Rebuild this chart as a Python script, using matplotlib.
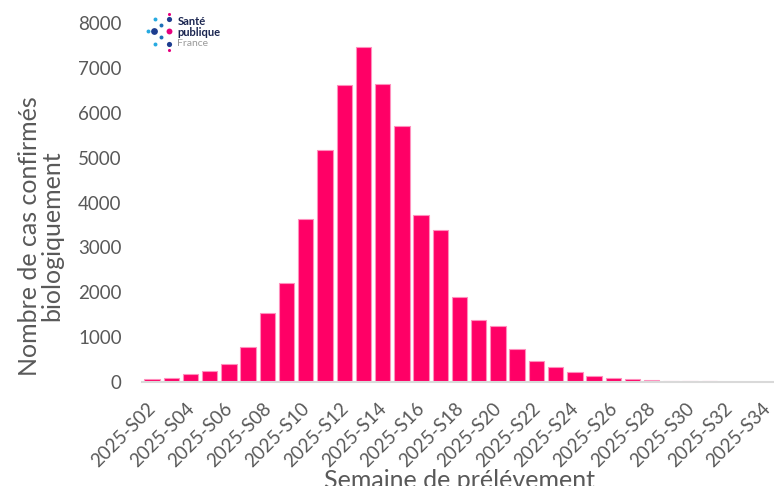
import matplotlib.pyplot as plt
from matplotlib.transforms import ScaledTranslation

plt.rcParams['font.family'] = ['Lato', 'DejaVu Sans']

# Weekly counts of biologically confirmed cases, 2025-S02 to 2025-S34
weeks = [f"2025-S{n:02d}" for n in range(2, 35)]
cases = [60, 90, 180, 240, 400, 780, 1540, 2210, 3640, 5180,
         6620, 7460, 6630, 5700, 3730, 3390, 1900, 1380, 1240, 740,
         470, 340, 230, 140, 80, 70, 40, 20, 15, 12,
         10, 10, 8]
yticks = [0, 1000, 2000, 3000, 4000, 5000, 6000, 7000, 8000]

text_grey = '#595959'

fig = plt.figure(figsize=(7.74, 4.86), dpi=100)
ax = fig.add_axes([142.4 / 774, 104 / 486, 615.0 * 33 / 32 / 774, 359 / 486])

x = list(range(len(weeks)))
ax.bar(x, cases, width=0.8, color='#FF0066', edgecolor='#FF8FBD', linewidth=0.8)

ax.set_xlim(-0.5, len(weeks) - 0.5)
ax.set_ylim(0, 8000)
ax.set_yticks(yticks)
ax.set_yticklabels([str(v) for v in yticks])
ax.set_xticks(x[::2])
ax.set_xticklabels(weeks[::2], rotation=45, ha='right', rotation_mode='anchor')

ax.tick_params(axis='y', length=0, pad=15, labelsize=13.5, labelcolor=text_grey)
ax.tick_params(axis='x', length=0, pad=13, labelsize=13.5, labelcolor=text_grey)

# nudge the rotated week labels slightly to the left
shift = ScaledTranslation(-5 / 100, 0, fig.dpi_scale_trans)
for lbl in ax.get_xticklabels():
    lbl.set_transform(lbl.get_transform() + shift)

for side in ['top', 'right', 'left']:
    ax.spines[side].set_visible(False)
ax.spines['bottom'].set_color('#D9D9D9')
ax.spines['bottom'].set_linewidth(1.5)

fig.text(41 / 774, 1 - 236 / 486, 'Nombre de cas confirmés\nbiologiquement',
         rotation=90, ha='center', va='center', multialignment='center',
         fontsize=18, color=text_grey, linespacing=0.95)
fig.text(460 / 774, 0.036, 'Semaine de prélévement', ha='center', va='top',
         fontsize=18, color=text_grey)

# Santé publique France logo in the top-left corner
logo = fig.add_axes([0, 0, 1, 1], zorder=5)
logo.set_xlim(0, 774)
logo.set_ylim(486, 0)
logo.axis('off')
dots = [
    (169.3, 14.0, 5, '#E6007E'),
    (155.0, 19.3, 8, '#27AAE1'),
    (169.3, 19.3, 14, '#1D3D8F'),
    (160.7, 25.0, 8, '#1D6FB8'),
    (148.0, 31.0, 8, '#27AAE1'),
    (154.3, 31.0, 24, '#1D3D8F'),
    (169.3, 31.0, 18, '#E6007E'),
    (160.7, 36.7, 8, '#1D6FB8'),
    (155.0, 44.3, 8, '#27AAE1'),
    (169.3, 44.3, 14, '#1D3D8F'),
    (169.3, 50.0, 5, '#E6007E'),
]
for dx, dy, s, c in dots:
    logo.scatter(dx, dy, s=s, color=c, linewidths=0)
logo.text(177.5, 21.7, 'Santé', fontsize=8, fontweight='bold', color='#1A2550', va='center')
logo.text(177.5, 32.2, 'publique', fontsize=8, fontweight='bold', color='#1A2550', va='center')
logo.text(177.5, 44.0, 'France', fontsize=7.5, color='#9A9A9A', va='center')

fig.savefig('out.png', dpi=100)
